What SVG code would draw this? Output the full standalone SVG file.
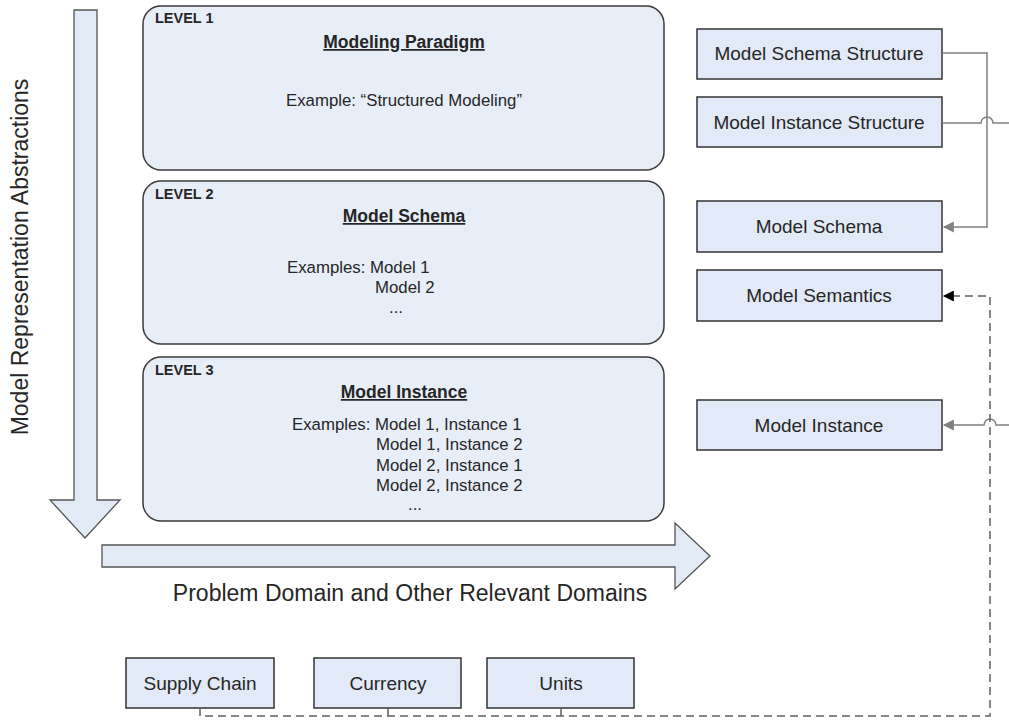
<svg xmlns="http://www.w3.org/2000/svg" width="1009" height="721" viewBox="0 0 1009 721">
<style>
text{font-family:"Liberation Sans",Arial,sans-serif;fill:#262626}
.lvl{fill:#e8eef8;stroke:#3a3a3a;stroke-width:1.5}
.box{fill:#e2eaf7;stroke:#333;stroke-width:1.5}
.big{fill:#e2eaf6;stroke:#555;stroke-width:1.3}
.lab{font-size:14.5px;font-weight:bold}
.ttl{font-size:17.5px;font-weight:bold;text-decoration:underline;text-anchor:middle}
.ex{font-size:16.8px}
.bt{font-size:19px;text-anchor:middle}
.ax{font-size:23px}
.gl{fill:none;stroke:#808080;stroke-width:1.5}
.dl{fill:none;stroke:#606060;stroke-width:1.5;stroke-dasharray:8,5}
</style>
<defs>
<marker id="ag" viewBox="0 0 10 10" refX="9" refY="5" markerWidth="13" markerHeight="11" markerUnits="userSpaceOnUse" orient="auto"><path d="M0,0L10,5L0,10z" fill="#808080"/></marker>
<marker id="ab" viewBox="0 0 10 10" refX="9" refY="5" markerWidth="13" markerHeight="11" markerUnits="userSpaceOnUse" orient="auto"><path d="M0,0L10,5L0,10z" fill="#000"/></marker>
</defs>
<rect width="1009" height="721" fill="#fff"/>
<g id="axis-vertical">
<path class="big" d="M74,10H97V500H120L85,538L50,500H74Z"/>
<text class="ax" transform="translate(28,257) rotate(-90)" text-anchor="middle">Model Representation Abstractions</text>
</g>
<g id="axis-horizontal">
<path class="big" d="M102,545H675V523L710,556L675,589V567H102Z"/>
<text class="ax" x="410" y="601" text-anchor="middle">Problem Domain and Other Relevant Domains</text>
</g>
<g id="level1">
<rect class="lvl" x="143" y="6" width="521" height="164" rx="18"/>
<text class="lab" x="155" y="23">LEVEL 1</text>
<text class="ttl" x="404" y="48">Modeling Paradigm</text>
<text class="ex" x="404" y="106" text-anchor="middle">Example: “Structured Modeling”</text>
</g>
<g id="level2">
<rect class="lvl" x="143" y="181" width="521" height="163" rx="18"/>
<text class="lab" x="155" y="199">LEVEL 2</text>
<text class="ttl" x="404" y="222">Model Schema</text>
<text class="ex" x="287" y="273">Examples: Model 1</text>
<text class="ex" x="375" y="293">Model 2</text>
<text class="ex" x="389" y="313" font-size="12">...</text>
</g>
<g id="level3">
<rect class="lvl" x="143" y="357" width="521" height="164" rx="18"/>
<text class="lab" x="155" y="375">LEVEL 3</text>
<text class="ttl" x="404" y="398">Model Instance</text>
<text class="ex" x="292" y="430">Examples: Model 1, Instance 1</text>
<text class="ex" x="376" y="450">Model 1, Instance 2</text>
<text class="ex" x="376" y="471">Model 2, Instance 1</text>
<text class="ex" x="376" y="491">Model 2, Instance 2</text>
<text class="ex" x="408" y="510" font-size="12">...</text>
</g>
<g id="model-schema-structure"><rect class="box" x="697" y="29" width="245" height="50"/><text class="bt" x="819" y="60">Model Schema Structure</text></g>
<g id="model-instance-structure"><rect class="box" x="697" y="97" width="245" height="50"/><text class="bt" x="819" y="129">Model Instance Structure</text></g>
<g id="model-schema"><rect class="box" x="697" y="201" width="245" height="51"/><text class="bt" x="819" y="233">Model Schema</text></g>
<g id="model-semantics"><rect class="box" x="697" y="270" width="245" height="51"/><text class="bt" x="819" y="302">Model Semantics</text></g>
<g id="model-instance"><rect class="box" x="697" y="400" width="245" height="50"/><text class="bt" x="819" y="432">Model Instance</text></g>
<g id="supply-chain"><rect class="box" x="126" y="658" width="148" height="50"/><text class="bt" x="200" y="690">Supply Chain</text></g>
<g id="currency"><rect class="box" x="314" y="658" width="147" height="50"/><text class="bt" x="388" y="690">Currency</text></g>
<g id="units"><rect class="box" x="487" y="658" width="147" height="50"/><text class="bt" x="561" y="690">Units</text></g>
<g id="connectors">
<path class="gl" d="M942,53H987V227H944" marker-end="url(#ag)"/>
<path class="gl" d="M942,123H981A6,6 0 0 1 993,123H1009"/>
<path class="gl" d="M1009,425H996A6,6 0 0 0 984,425H944" marker-end="url(#ag)"/>
<path class="dl" d="M200,708V716H990V296H944" marker-end="url(#ab)"/>
<path class="dl" d="M388,708V716"/>
<path class="dl" d="M561,708V716"/>
</g>
</svg>
